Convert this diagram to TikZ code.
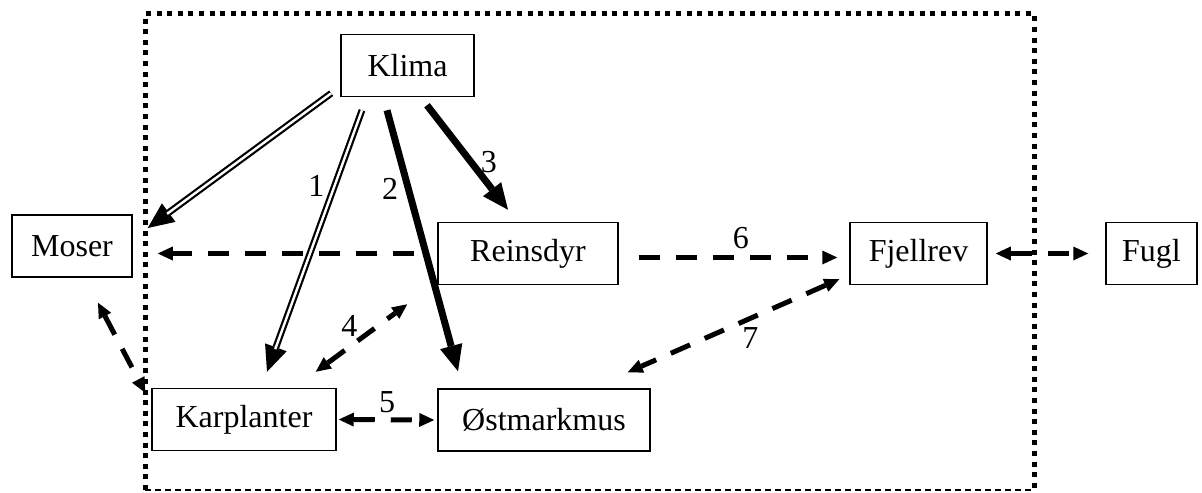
\documentclass[tikz,border=0pt]{standalone}
\usepackage{fontspec}
\setmainfont{Liberation Serif}
\usetikzlibrary{arrows.meta,calc}

\begin{document}
\begin{tikzpicture}[x=0.5pt,y=-0.5pt,
  boxnode/.style={draw,line width=0.75pt,rectangle,inner sep=0pt,
    minimum height=31pt,font=\fontsize{16}{19}\selectfont},
  numlbl/.style={font=\fontsize{16}{19}\selectfont},
  dblarr/.style={line width=3.4pt,-{Triangle[length=13pt,width=11.5pt,line width=0pt]},
    postaction={draw=white,line width=1.2pt,-,shorten >=12pt}},
  boldarr/.style={line width=3.5pt,-{Triangle[length=13pt,width=11.5pt,line width=0pt]}},
  dasharr/.style={line width=2.5pt,dash pattern=on 10.5pt off 8pt,
    -{Triangle[length=7.5pt,width=7pt,line width=0pt]}},
  dashboth/.style={dasharr,{Triangle[length=7.5pt,width=7pt,line width=0pt]}-{Triangle[length=7.5pt,width=7pt,line width=0pt]}}]

\useasboundingbox (0,0) rectangle (1202,492);

% Ramme rundt systemet
\draw[line width=2.5pt,dash pattern=on 2.5pt off 2.8pt] (145,490) -- (145,14) -- (1034,14) -- (1034,490);
\draw[line width=0.8pt,dash pattern=on 3pt off 2pt] (145,490) -- (1034,490);

% Bokser
\node[boxnode,minimum width=66.5pt] (klima) at (407.5,65.5) {Klima};
\node[boxnode,minimum width=60pt] (moser) at (72,246) {Moser};
\node[boxnode,minimum width=90pt] (reinsdyr) at (528,253.5) {Reinsdyr};
\node[boxnode,minimum width=68.5pt] (fjellrev) at (918.5,253.5) {Fjellrev};
\node[boxnode,minimum width=45.5pt] (fugl) at (1151.5,253.5) {Fugl};
\node[boxnode,minimum width=92pt] (karplanter) at (244,419.5) {Karplanter};
\node[boxnode,minimum width=106pt] (ostmark) at (544,420) {Østmarkmus};

% Klima-piler
\draw[dblarr] ($(klima.south west)+(-9,-4)$) -- ($(moser.east)+(15,-18)$);
\draw[dblarr] ($(klima.south)+(-45.5,13)$) -- ($(karplanter.north)+(23,-16)$)
  node[numlbl,pos=.29,left] {1};
\draw[boldarr] ($(klima.south)+(-20.5,13)$) -- ($(ostmark.north)+(-86,-17)$)
  node[numlbl,pos=.3,left] {2};
\draw[boldarr] ($(klima.south)+(19.5,8)$) -- ($(reinsdyr.north)+(-20,-12)$)
  node[numlbl,pos=.54,right] {3};

% Stiplede piler
\draw[dasharr,shorten <=11.5pt,shorten >=12.5pt] (reinsdyr.west) -- (reinsdyr.west -| moser.east);
\draw[dasharr,shorten <=10pt,shorten >=6pt] ([yshift=-2pt]reinsdyr.east) -- ([yshift=-2pt]fjellrev.west)
  node[numlbl,pos=.53,above] {6};
\draw[dashboth,shorten <=4pt,shorten >=8.5pt] (fjellrev.east) -- (fugl.west);
\draw[dashboth] ($(moser.south)+(26,25)$) -- ($(karplanter.north west)+(-6,5)$);
\draw[dashboth] ($(karplanter.north east)+(-21,-16)$) -- ($(reinsdyr.south west)+(-30,19)$)
  node[numlbl,pos=.68,left,inner sep=9pt] {4};
\draw[dashboth,shorten <=1pt,shorten >=1.5pt] (karplanter.east) -- (ostmark.west)
  node[numlbl,pos=.5,above,inner sep=2pt] {5};
\draw[dashboth] ($(fjellrev.south west)+(-10,-6)$) -- ($(ostmark.north east)+(-23,-16)$)
  node[numlbl,pos=.42,below] {7};

\end{tikzpicture}
\end{document}
